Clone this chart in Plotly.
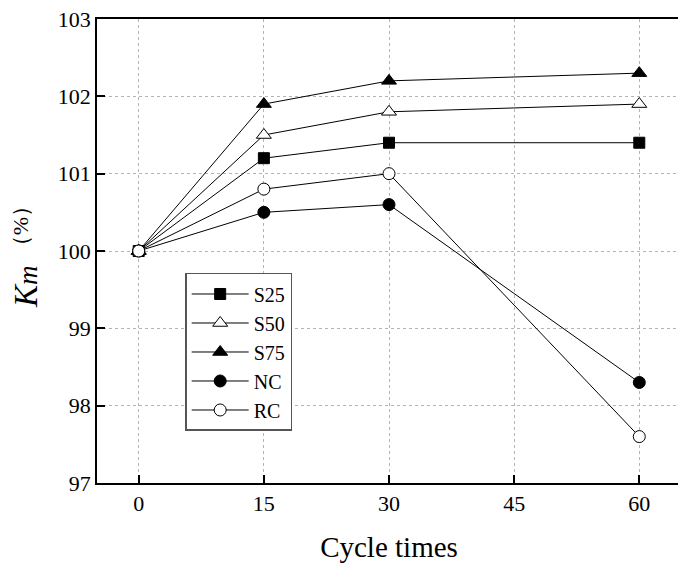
import plotly.graph_objects as go

# Cycle times and Km (%) values
cycles = [0, 15, 30, 60]
s25 = [100.0, 101.2, 101.4, 101.4]
s50 = [100.0, 101.5, 101.8, 101.9]
s75 = [100.0, 101.9, 102.2, 102.3]
nc = [100.0, 100.5, 100.6, 98.3]
rc = [100.0, 100.8, 101.0, 97.6]

x_ticks = [0, 15, 30, 45, 60]
y_ticks = [97, 98, 99, 100, 101, 102, 103]

font_name = "Liberation Serif"

series = [
    ("S25", s25, "square", "black", 11),
    ("S50", s50, "triangle-up", "white", 13),
    ("S75", s75, "triangle-up", "black", 13),
    ("NC", nc, "circle", "black", 12),
    ("RC", rc, "circle", "white", 12),
]

fig = go.Figure()
for name, vals, sym, fill, size in series:
    fig.add_trace(go.Scatter(
        x=cycles, y=vals, name=name, mode="lines+markers",
        line=dict(color="black", width=1),
        marker=dict(symbol=sym, size=size, color=fill,
                    line=dict(color="black", width=1)),
    ))

axis_style = dict(
    showline=True, linecolor="black", linewidth=1.5, mirror=True,
    ticks="inside", ticklen=8, tickwidth=1.5, tickcolor="black",
    showgrid=True, gridcolor="#b4b4b4", gridwidth=1, griddash="3px,3px",
    zeroline=False, automargin=False, ticklabeloverflow="allow",
    tickfont=dict(family=font_name, size=22, color="black"),
)

fig.update_xaxes(
    range=[-5, 65], tickvals=x_ticks, **axis_style,
    title=dict(text="Cycle times", font=dict(family=font_name, size=29, color="black"),
               standoff=22),
)
ytitle = ("<i>K</i><span style='font-size:27px'><i>m</i></span>\u00a0"
          "<span style='font-size:22px;baseline-shift:9px'>（%）</span>"
          "\u00a0\u00a0\u00a0\u00a0\u00a0")
fig.update_yaxes(
    range=[97, 103], tickvals=y_ticks, **axis_style,
    title=dict(text=ytitle, font=dict(family=font_name, size=33, color="black"),
               standoff=12),
)

# the page body keeps an 8px margin, so the figure is 8px smaller each way
fig.update_layout(
    width=678, height=560, autosize=False,
    margin=dict(l=89, r=5, t=11, b=85),
    plot_bgcolor="white", paper_bgcolor="white",
    font=dict(family=font_name, color="black"),
    showlegend=True,
    legend=dict(
        x=0.151, y=0.4526, xanchor="left", yanchor="top",
        bgcolor="white", bordercolor="#555555", borderwidth=1.5,
        font=dict(family=font_name, size=20, color="black"),
        tracegroupgap=0, itemwidth=57,
    ),
)

fig.write_html("out.html")
